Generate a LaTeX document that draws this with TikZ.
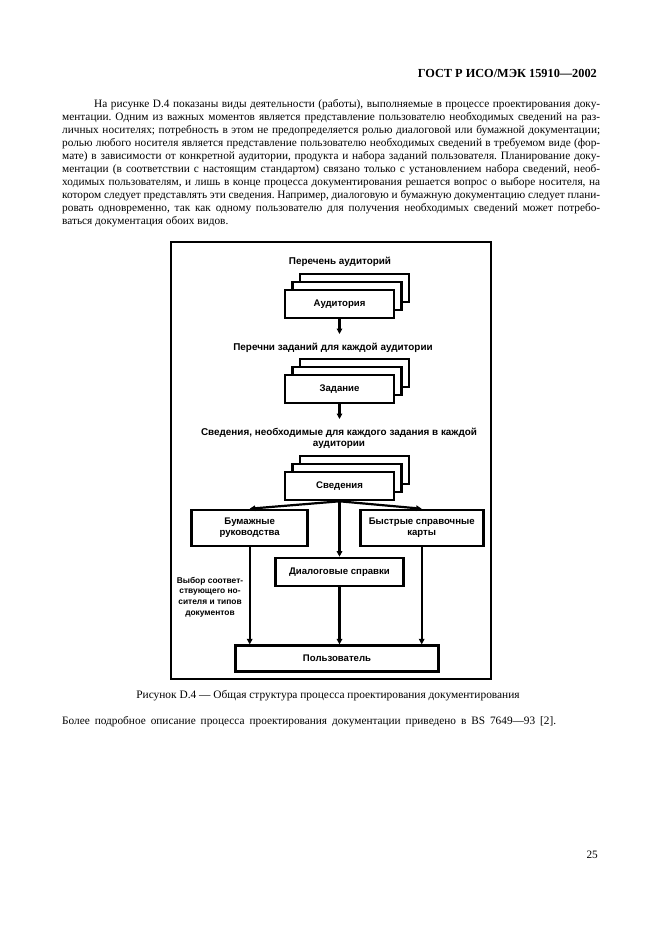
\documentclass[tikz,border=0pt]{standalone}
\usepackage{fontspec}
\setmainfont{Liberation Serif}
\newfontfamily\dsans{Liberation Sans}
\usetikzlibrary{arrows.meta}
\frenchspacing
\tikzset{
  body/.style={anchor=base west, inner sep=0pt, font=\fontsize{11.3}{13}\selectfont},
  dtext/.style={inner sep=0pt, align=center, font=\dsans\bfseries\fontsize{9.9}{11.3}\selectfont},
  box/.style={draw, line width=2.6pt, fill=white, inner sep=0pt, align=center, font=\dsans\bfseries\fontsize{9.6}{11.3}\selectfont},
  backbox/.style={draw, line width=2.6pt, fill=white},
  conn/.style={line width=2.2pt, -{Triangle[width=5.5pt,length=5.5pt]}},
}
\begin{document}
\begin{tikzpicture}[x=1pt,y=-1pt]
\useasboundingbox[fill=white] (0,0) rectangle (661,936);
% header
\node[anchor=base east, inner sep=0pt, font=\bfseries\fontsize{12.3}{14}\selectfont] (hdr) at (597,78) {ГОСТ Р ИСО/МЭК 15910---2002};
% paragraph
\node[body] (p1) at (94,108) {\makebox[506pt][s]{На рисунке D.4 показаны виды деятельности (работы), выполняемые в процессе проектирования доку-}};
\node[body] (p2) at (62,120.9) {\makebox[538pt][s]{ментации. Одним из важных моментов является представление пользователю необходимых сведений на раз-}};
\node[body] (p3) at (62,133.8) {\makebox[538pt][s]{личных носителях; потребность в этом не предопределяется ролью диалоговой или бумажной документации;}};
\node[body] (p4) at (62,146.7) {\makebox[538pt][s]{ролью любого носителя является представление пользователю необходимых сведений в требуемом виде (фор-}};
\node[body] (p5) at (62,159.6) {\makebox[538pt][s]{мате) в зависимости от конкретной аудитории, продукта и набора заданий пользователя. Планирование доку-}};
\node[body] (p6) at (62,172.5) {\makebox[538pt][s]{ментации (в соответствии с настоящим стандартом) связано только с установлением набора сведений, необ-}};
\node[body] (p7) at (62,185.4) {\makebox[538pt][s]{ходимых пользователям, и лишь в конце процесса документирования решается вопрос о выборе носителя, на}};
\node[body] (p8) at (62,198.3) {\makebox[538pt][s]{котором следует представлять эти сведения. Например, диалоговую и бумажную документацию следует плани-}};
\node[body] (p9) at (62,211.2) {\makebox[538pt][s]{ровать одновременно, так как одному пользователю для получения необходимых сведений может потребо-}};
\node[body] (p10) at (62,224.1) {ваться документация обоих видов.};
% frame
\draw[line width=2.8pt] (171,242) rectangle (491,679);
% labels
\node[dtext] (l1) at (340,262) {Перечень аудиторий};
\node[dtext] (l2) at (333,348) {Перечни заданий для каждой аудитории};
\node[dtext] (l3) at (339,438.5) {Сведения, необходимые для каждого задания в каждой\\аудитории};
% stacks
\foreach \cy in {304,389,486}{
  \draw[backbox] (300,\cy-30) rectangle (409,\cy-2);
  \draw[backbox] (292.5,\cy-22) rectangle (401.5,\cy+6);
}
\node[box, minimum width=109pt, minimum height=28pt] (aud) at (339.5,304) {Аудитория};
\node[box, minimum width=109pt, minimum height=28pt] (zad) at (339.5,389) {Задание};
\node[box, minimum width=109pt, minimum height=28pt] (sved) at (339.5,486) {Сведения};
\coordinate (a1) at (339.5,334);
\coordinate (a2) at (339.5,419);
\draw[conn] (aud.south) -- (a1);
\draw[conn] (zad.south) -- (a2);
% lower boxes
\node[box, minimum width=116pt, minimum height=36pt] (paper) at (249.7,528) {Бумажные\\руководства};
\node[box, minimum width=123pt, minimum height=36pt] (quick) at (421.7,528) {Быстрые справочные\\карты};
\node[box, minimum width=128pt, minimum height=28pt] (dial) at (339.5,572) {Диалоговые справки};
\node[box, minimum width=203pt, minimum height=26pt] (user) at (337,658.7) {Пользователь};
\draw[conn] (sved.south) -- (paper.north);
\draw[conn] (sved.south) -- (quick.north);
\draw[conn] (sved.south) -- (dial.north);
\draw[conn] (paper.south) -- (paper.south |- user.north);
\draw[conn] (quick.south) -- (quick.south |- user.north);
\draw[conn] (dial.south) -- (dial.south |- user.north);
\node[dtext, font=\dsans\bfseries\fontsize{8.4}{10.8}\selectfont] (choice) at (210,597) {Выбор соответ-\\ствующего но-\\сителя и типов\\документов};
% caption
\node[anchor=base, inner sep=0pt, font=\fontsize{11.4}{13}\selectfont] (cap) at (328,698) {Рисунок D.4 --- Общая структура процесса проектирования документирования};
\node[body] (more) at (62,724) {\makebox[494pt][s]{Более подробное описание процесса проектирования документации приведено в BS 7649---93 [2].}};
\node[anchor=base east, inner sep=0pt, font=\fontsize{11.3}{13}\selectfont] (pg) at (598,858) {25};
\end{tikzpicture}
\end{document}
